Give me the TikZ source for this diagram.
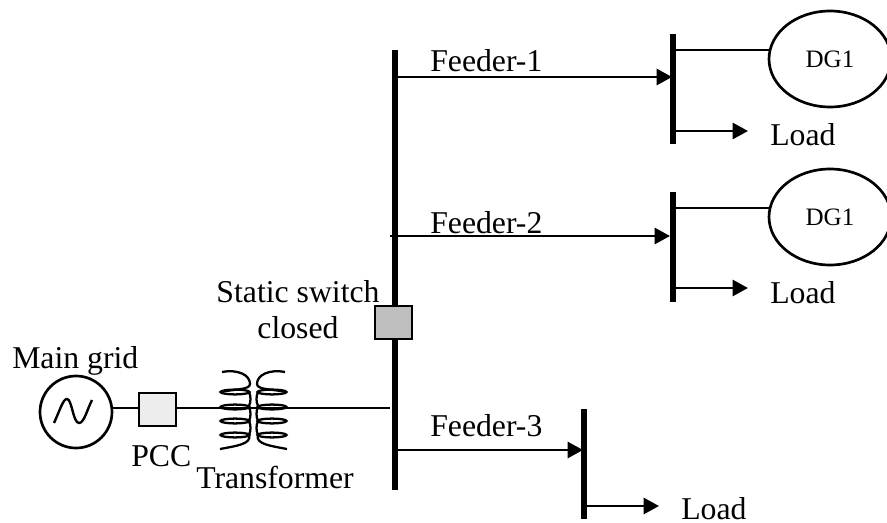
\documentclass[tikz,border=0pt]{standalone}
\usepackage{fontspec}
\setmainfont{Liberation Serif}
\usetikzlibrary{arrows.meta,shapes.geometric}

\tikzset{
  bus/.style={fill=black,draw=none,inner sep=0pt,minimum width=#1},
  wire/.style={line width=2pt},
  feed/.style={wire,-{Triangle[length=11.5pt,width=12pt]}},
  lbl/.style={inner sep=0pt,anchor=base west,font=\fontsize{23.8}{27}\selectfont},
  gen/.style={draw,line width=2pt,ellipse,inner sep=0pt,minimum width=91.5pt,minimum height=72pt,font=\fontsize{18.8}{22}\selectfont},
  sw/.style={draw,line width=1.7pt,inner sep=0pt,minimum width=27.5pt,minimum height=24.5pt},
  winding/.pic={
    \draw[line width=1.7pt] (-28,-36) .. controls (-12,-39) and (0,-33) .. (0,-24)
      .. controls (0,-18) and (-16,-19) .. (-29,-16);
    \foreach \yy in {-16,-1,13,27}
      \draw[line width=1.7pt] (-15,\yy) ellipse [x radius=14.5,y radius=2.4];
    \foreach \yy in {-16,-1,13}
      \draw[line width=1.7pt] (-1,\yy) .. controls (1,\yy+4) and (1,\yy+10) .. (-1,\yy+14);
    \draw[line width=1.7pt] (-1,27) .. controls (2,36) and (-14,38) .. (-30,41);
  }
}

\begin{document}
\begin{tikzpicture}[x=0.75pt,y=-0.75pt]
\useasboundingbox (0,0) rectangle (887,523);

% buses
\node[bus=5pt,minimum height=330pt] (busM) at (395,270) {};
\node[bus=4.5pt,minimum height=82.5pt] (busA) at (673,89) {};
\node[bus=4.5pt,minimum height=82.5pt] (busB) at (673,247) {};
\node[bus=4.5pt,minimum height=82.5pt] (busC) at (584,464) {};

% sources
\node[draw,line width=2pt,circle,inner sep=0pt,minimum size=54pt] (grid) at (76,412) {};
\node[sw,fill=black!7] (pcc) at (157.5,409.5) {};
\node[sw,fill=black!25] (switch) at (393.5,322.5) {};
\node[gen] (dgA) at (830,59) {DG1};
\node[gen] (dgB) at (830,217) {DG1};

\draw[line width=1.8pt,line join=round] (54,423) .. controls (60,410) and (63,399) .. (67,399)
  .. controls (72,399) and (73,423) .. (79,423) .. controls (84,423) and (87,410) .. (92,400);

% points on the buses
\coordinate (f1) at (395,77);
\coordinate (f2) at (390,236);
\coordinate (f3) at (395,450);
\coordinate (mainIn) at (390,408);
\coordinate (a1) at (672,77);
\coordinate (a2) at (673,50);
\coordinate (a3) at (673,131);
\coordinate (b1) at (670,236);
\coordinate (b2) at (673,208);
\coordinate (b3) at (673,288);
\coordinate (c1) at (583,450);
\coordinate (c3) at (584,506);
\coordinate (la) at (748,131);
\coordinate (lb) at (748,288);
\coordinate (lc) at (659,506);

% connectors
\draw[wire] (grid.east |- mainIn) -- (pcc.west |- mainIn);
\draw[wire] (pcc.east |- mainIn) -- (mainIn);
\draw[feed] (f1) -- (a1);
\draw[feed] (f2) -- (b1);
\draw[feed] (f3) -- (c1);
\draw[wire] (a2) -- ([xshift=1pt]a2 -| dgA.west);
\draw[wire] (b2) -- ([xshift=1pt]b2 -| dgB.west);
\draw[feed] (a3) -- (la);
\draw[feed] (b3) -- (lb);
\draw[feed] (c3) -- (lc);

% transformer
\pic at (250,408) {winding};
\pic[xscale=-1] at (257,408) {winding};

% labels
\node[lbl] (tf1) at (430,72) {Feeder-1};
\node[lbl] (tf2) at (430,234) {Feeder-2};
\node[lbl] (tf3) at (430,436) {Feeder-3};
\node[lbl] (tl1) at (770,146) {Load};
\node[lbl] (tl2) at (770,304) {Load};
\node[lbl] (tl3) at (681,519) {Load};
\node[lbl] (tgrid) at (12,368) {Main grid};
\node[lbl] (tpcc) at (131,466) {PCC};
\node[lbl] (ttr) at (196,488) {Transformer};
\node[lbl,anchor=center,align=center] (tsw) at (298,310) {Static switch\\closed};
\end{tikzpicture}
\end{document}
